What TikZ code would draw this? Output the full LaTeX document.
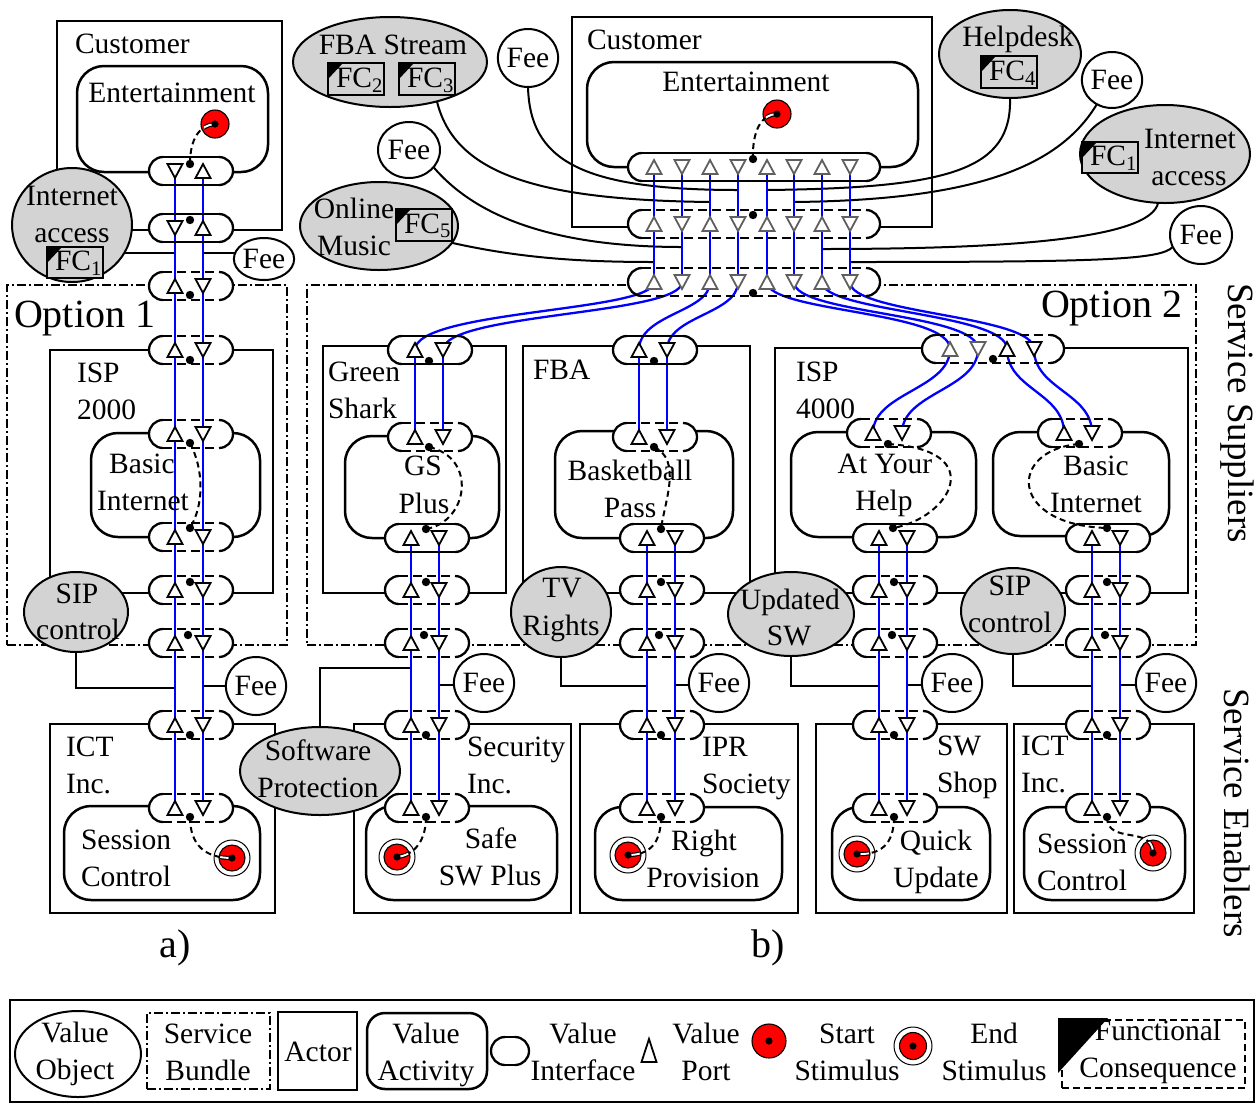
\documentclass[tikz,border=0pt]{standalone}
\usepackage{fontspec}
\setmainfont{Liberation Serif}
\usetikzlibrary{shapes.geometric}
\pgfdeclarelayer{back}
\pgfdeclarelayer{conn}
\pgfdeclarelayer{blue}
\pgfsetlayers{back,conn,blue,main}
\definecolor{vgray}{RGB}{211,211,211}
\definecolor{pgray}{RGB}{95,95,95}
\definecolor{vblue}{RGB}{0,0,255}
\definecolor{sred}{RGB}{255,0,0}
\newcommand\myfs{\fontsize{29.5}{35}\selectfont}
\newcommand\myfsbig{\fontsize{40}{48}\selectfont}
\newcommand\myfsmid{\fontsize{37}{44}\selectfont}
\tikzset{
 actorsty/.style={draw, line width=2.4pt, inner sep=0, outer sep=0},
 actsty/.style={draw, line width=2.5pt, rounded corners=27pt, inner sep=0, outer sep=0},
 bundlesty/.style={draw, line width=1.8pt, dash pattern=on 9pt off 3pt on 2pt off 3pt, inner sep=0, outer sep=0},
 vobjsty/.style={ellipse, draw, fill=vgray, line width=2pt, inner sep=0, outer sep=0},
 feesty/.style={ellipse, draw, fill=white, line width=2pt, inner sep=0, outer sep=0, font=\myfs},
 fcsty/.style={draw, fill=vgray, line width=2.2pt, inner sep=0, outer sep=0},
 pillline/.style={line width=2.3pt},
 pdash/.style={dash pattern=on 9pt off 5pt},
 psol/.style={},
 portsty/.style={fill=white, line width=1.8pt, line join=miter},
 bl/.style={draw=vblue, line width=2.3pt},
 cn/.style={draw=black, line width=2pt},
 dsh/.style={draw=black, line width=2pt, dash pattern=on 6pt off 4pt},
 txt/.style={inner sep=0, outer sep=0, font=\myfs},
}
% boxes
\newcommand\actorbox[5]{\begin{pgfonlayer}{back}\node[actorsty, minimum width={#4pt-#2pt}, minimum height={#5pt-#3pt}] (#1) at ({(#2+#4)/2},{(#3+#5)/2}) {};\end{pgfonlayer}}
\newcommand\activity[5]{\begin{pgfonlayer}{back}\node[actsty, minimum width={#4pt-#2pt}, minimum height={#5pt-#3pt}] (#1) at ({(#2+#4)/2},{(#3+#5)/2}) {};\end{pgfonlayer}}
\newcommand\bundle[5]{\begin{pgfonlayer}{back}\node[bundlesty, minimum width={#4pt-#2pt}, minimum height={#5pt-#3pt}] (#1) at ({(#2+#4)/2},{(#3+#5)/2}) {};\end{pgfonlayer}}
% value interface (pill)
\newcommand\pill[5]{%
 \coordinate (#1) at (#2,#3);
 \begin{pgfonlayer}{back}\fill[white,rounded corners=14pt] (#2-#4-14,#3-14) rectangle (#2+#4+14,#3+14);\end{pgfonlayer}
 \draw[pillline,rounded corners=14pt] (#2-#4,#3-14) -- (#2-#4-14,#3-14) -- (#2-#4-14,#3+14) -- (#2-#4,#3+14);
 \draw[pillline,rounded corners=14pt] (#2+#4,#3-14) -- (#2+#4+14,#3-14) -- (#2+#4+14,#3+14) -- (#2+#4,#3+14);
 \draw[pillline,#5] (#2-#4,#3-14) -- (#2+#4,#3-14) (#2-#4,#3+14) -- (#2+#4,#3+14);}
\newcommand\pu[4][black]{\coordinate (#2) at (#3,#4);\draw[portsty,draw=#1] (#3-7.5,#4+7) -- (#3+7.5,#4+7) -- (#3,#4-7) -- cycle;}
\newcommand\pd[4][black]{\coordinate (#2) at (#3,#4);\draw[portsty,draw=#1] (#3-7.5,#4-7) -- (#3+7.5,#4-7) -- (#3,#4+7) -- cycle;}
\newcommand\dotat[3]{\coordinate (#1) at (#2,#3);\fill (#1) circle[radius=4.2];}
\newcommand\pp[8]{\pill{#1}{#2}{#3}{28}{#8}\pu{#1-1}{#4}{#3}\pd{#1-2}{#5}{#3}\dotat{#1-d}{#6}{#7}}
\newcommand\ppr[8]{\pill{#1}{#2}{#3}{28}{#8}\pd{#1-1}{#4}{#3}\pu{#1-2}{#5}{#3}\dotat{#1-d}{#6}{#7}}
% value objects
\newcommand\vobj[5]{\node[vobjsty, minimum width={2*#4pt}, minimum height={2*#5pt}] (#1) at (#2,#3) {};}
\newcommand\fee[5]{\node[feesty, minimum width={2*#4pt}, minimum height={2*#5pt}] (#1) at (#2,#3) {Fee};}
\newcommand\fcbox[6]{\node[fcsty, minimum width={#4pt-#2pt}, minimum height={#5pt-#3pt}] (#1) at ({(#2+#4)/2},{(#3+#5)/2}) {};
 \fill (#2,#3) -- (#2+15,#3) -- (#2,#3+16) -- cycle;
 \node[txt, anchor=base west] (#1t) at (#2+8,#5-8) {FC\textsubscript{#6}};}
% stimuli
\newcommand\mkstart[3]{\node[circle, draw, fill=sred, line width=1.1pt, minimum size=28pt, inner sep=0] (#1) at (#2,#3) {};}
\newcommand\mkend[3]{\node[circle, draw, fill=white, line width=1pt, minimum size=36pt, inner sep=0] (#1o) at (#2,#3) {};
 \node[circle, draw, fill=sred, line width=1.1pt, minimum size=26pt, inner sep=0] (#1) at (#2,#3) {};}
\newcommand\stimpath[4]{%
 \draw[dsh] (#1) .. controls #2 and #3 .. (#4.center);
 \begin{scope}\clip (#4.center) circle[radius=12];
 \draw[black,line width=4.2pt] (#1) .. controls #2 and #3 .. (#4.center);
 \draw[white,line width=1.9pt] (#1) .. controls #2 and #3 .. (#4.center);\end{scope}
 \fill (#4.center) circle[radius=3.6];}
\newcommand\tx[5][base]{\node[txt, anchor=#1] (#2) at (#3,#4) {#5};}

\begin{document}
\begin{tikzpicture}[x=1pt,y=-1pt]
\useasboundingbox (0,0) rectangle (1258,1104);
\begin{pgfonlayer}{back}\fill[white] (0,0) rectangle (1258,1104);\end{pgfonlayer}

% ---------------- actors, bundles, activities
\actorbox{custA}{57}{21}{282}{230}
\actorbox{ispA}{50}{350}{273}{593}
\actorbox{ictA}{50}{724}{275}{913}
\actorbox{custB}{572}{17}{932}{227}
\actorbox{green}{323}{346}{506}{593}
\actorbox{fba}{523}{346}{750}{593}
\actorbox{ispB}{775}{348}{1188}{593}
\actorbox{sec}{354}{724}{571}{913}
\actorbox{ipr}{580}{724}{798}{913}
\actorbox{sws}{816}{724}{1007}{913}
\actorbox{ictB}{1014}{724}{1194}{913}
\bundle{opt1}{7}{285}{287}{645}
\bundle{opt2}{307}{285}{1196}{645}
\activity{entA}{77}{66}{268}{172}
\activity{biA}{91}{433}{260}{537}
\activity{scA}{64}{806}{260}{900}
\activity{entB}{587}{62}{918}{167}
\activity{gsp}{345}{436}{499}{538}
\activity{bbp}{555}{431}{733}{538}
\activity{ayh}{791}{432}{976}{537}
\activity{biB}{993}{432}{1169}{536}
\activity{safe}{366}{806}{557}{900}
\activity{rp}{595}{807}{782}{900}
\activity{qu}{832}{807}{990}{900}
\activity{scB}{1024}{807}{1185}{900}

% ---------------- value interfaces
\ppr{a1}{191}{171}{175}{203}{190}{164}{psol}
\ppr{a2}{191}{228}{175}{203}{190}{220}{psol}
\pp{a3}{191}{286}{175}{203}{190}{295}{pdash}
\pp{a4}{191}{350}{175}{203}{190}{360}{pdash}
\pp{a5}{191}{434}{175}{203}{190}{443}{pdash}
\pp{a6}{191}{537}{175}{203}{190}{528}{pdash}
\pp{a7}{191}{590}{175}{203}{190}{582}{pdash}
\pp{a8}{191}{643}{175}{203}{188}{635}{pdash}
\pp{a9}{191}{725}{175}{203}{190}{735}{pdash}
\pp{a10}{191}{808}{175}{203}{190}{817}{pdash}

\pp{g1}{430}{350}{415}{443}{429}{361}{psol}
\pp{g2}{430}{437}{415}{443}{429}{447}{pdash}
\pp{g3}{427}{538}{411}{439}{426}{529}{psol}
\pp{g4}{427}{590}{411}{439}{426}{582}{pdash}
\pp{g5}{427}{643}{411}{439}{424}{635}{pdash}
\pp{g6}{427}{725}{411}{439}{426}{735}{pdash}
\pp{g7}{427}{808}{411}{439}{426}{817}{pdash}

\pp{f1}{655}{350}{639}{667}{654}{361}{psol}
\pp{f2}{655}{437}{639}{667}{654}{447}{pdash}
\pp{f3}{662}{538}{647}{675}{661}{529}{psol}
\pp{f4}{662}{590}{647}{675}{661}{582}{pdash}
\pp{f5}{662}{643}{647}{675}{659}{635}{pdash}
\pp{f6}{662}{725}{647}{675}{661}{735}{pdash}
\pp{f7}{662}{808}{647}{675}{661}{817}{pdash}

\pp{h1}{889}{433}{873}{902}{888}{444}{pdash}
\pp{h2}{895}{538}{879}{907}{893}{528}{psol}
\pp{h3}{895}{590}{879}{907}{894}{582}{pdash}
\pp{h4}{895}{643}{879}{907}{892}{635}{pdash}
\pp{h5}{895}{725}{879}{907}{894}{735}{pdash}
\pp{h6}{895}{808}{879}{907}{894}{817}{pdash}

\pp{b1}{1080}{433}{1064}{1092}{1079}{444}{pdash}
\pp{b2}{1108}{538}{1092}{1120}{1107}{528}{psol}
\pp{b3}{1108}{590}{1092}{1120}{1107}{582}{pdash}
\pp{b4}{1108}{643}{1092}{1120}{1105}{635}{pdash}
\pp{b5}{1108}{725}{1092}{1120}{1107}{735}{pdash}
\pp{b6}{1108}{808}{1092}{1120}{1107}{817}{pdash}

\pill{i1}{993}{349}{57}{pdash}
\pu[pgray]{i1-1}{950}{349}\pd[pgray]{i1-2}{978}{349}\pu{i1-3}{1007}{349}\pd{i1-4}{1034}{349}
\dotat{i1-d}{993}{359}

\pill{c1}{754}{167}{112}{psol}
\pill{c2}{754}{224}{112}{pdash}
\pill{c3}{754}{282}{112}{pdash}
\foreach \c/\yy in {c1/167,c2/224,c3/282}{
 \foreach \k/\xx in {1/654,3/710,5/767,7/822}{\pu[pgray]{\c-\k}{\xx}{\yy}}
 \foreach \k/\xx in {2/682,4/738,6/794,8/850}{\pd[pgray]{\c-\k}{\xx}{\yy}}
}
\dotat{c1-d}{753}{159}
\dotat{c2-d}{753}{215}
\dotat{c3-d}{753}{293}

% ---------------- value transfers (blue)
\begin{pgfonlayer}{blue}
\draw[bl] (a1-1) -- (a2-1) -- (a3-1) -- (a4-1) -- (a5-1) -- (a6-1) -- (a7-1) -- (a8-1) -- (a9-1) -- (a10-1);
\draw[bl] (a1-2) -- (a2-2) -- (a3-2) -- (a4-2) -- (a5-2) -- (a6-2) -- (a7-2) -- (a8-2) -- (a9-2) -- (a10-2);
\foreach \p in {g,f}{
 \draw[bl] (\p1-1) -- (\p2-1);
 \draw[bl] (\p1-2) -- (\p2-2);
 \draw[bl] (\p3-1) -- (\p4-1) -- (\p5-1) -- (\p6-1) -- (\p7-1);
 \draw[bl] (\p3-2) -- (\p4-2) -- (\p5-2) -- (\p6-2) -- (\p7-2);}
\foreach \p in {h,b}{
 \draw[bl] (\p2-1) -- (\p3-1) -- (\p4-1) -- (\p5-1) -- (\p6-1);
 \draw[bl] (\p2-2) -- (\p3-2) -- (\p4-2) -- (\p5-2) -- (\p6-2);}
\foreach \k in {1,...,8}{\draw[bl] (c1-\k) -- (c2-\k) -- (c3-\k);}
\draw[bl] (c3-1) .. controls +(0,30) and +(0,-40) .. (g1-1);
\draw[bl] (c3-2) .. controls +(0,33) and +(0,-37) .. (g1-2);
\draw[bl] (c3-3) .. controls +(0,30) and +(0,-36) .. (f1-1);
\draw[bl] (c3-4) .. controls +(0,32) and +(0,-34) .. (f1-2);
\draw[bl] (c3-5) .. controls +(0,30) and +(0,-38) .. (i1-1);
\draw[bl] (c3-6) .. controls +(0,32) and +(0,-36) .. (i1-2);
\draw[bl] (c3-7) .. controls +(0,30) and +(0,-36) .. (i1-3);
\draw[bl] (c3-8) .. controls +(0,32) and +(0,-34) .. (i1-4);
\draw[bl] (i1-1) .. controls +(0,40) and +(0,-40) .. (h1-1);
\draw[bl] (i1-2) .. controls +(0,40) and +(0,-40) .. (h1-2);
\draw[bl] (i1-3) .. controls +(0,40) and +(0,-40) .. (b1-1);
\draw[bl] (i1-4) .. controls +(0,40) and +(0,-40) .. (b1-2);
\end{pgfonlayer}

% ---------------- value objects
\vobj{iaA}{72}{225}{60}{57}
\vobj{fbaS}{390}{62}{97}{45}
\vobj{om}{379}{226}{79}{44}
\vobj{help}{1010}{54}{71}{44}
\vobj{iaB}{1165}{154}{85}{49}
\vobj{sipA}{76}{612}{52}{40}
\vobj{tv}{561}{612}{50}{45}
\vobj{usw}{791}{614}{63}{42}
\vobj{sipB}{1013}{611}{52}{43}
\vobj{swp}{320}{771}{80}{44}
\fee{feeA1}{264}{259}{29}{21}
\fee{feeA2}{256}{686}{30}{29}
\fee{feeT1}{528}{58}{30}{29}
\fee{feeT2}{409}{150}{31}{28}
\fee{feeT3}{1112}{80}{30}{28}
\fee{feeT4}{1201}{235}{31}{29}
\fee{feeG}{484}{683}{30}{29}
\fee{feeF}{719}{683}{30}{29}
\fee{feeH}{952}{683}{30}{29}
\fee{feeB}{1166}{683}{30}{29}
\fcbox{fcA}{47}{247}{103}{278}{1}
\fcbox{fcB}{328}{63}{384}{95}{2}
\fcbox{fcC}{399}{63}{455}{95}{3}
\fcbox{fcD}{396}{209}{452}{241}{5}
\fcbox{fcE}{981}{56}{1037}{88}{4}
\fcbox{fcF}{1082}{142}{1138}{173}{1}

% ---------------- connections of value objects
\coordinate (jA1) at (175,253);
\coordinate (jA2) at (203,253);
\coordinate (jA3) at (175,688);
\coordinate (jA4) at (203,686);
\coordinate (jSP) at (411,668);
\coordinate (jG) at (439,685);
\coordinate (jTV) at (647,686);
\coordinate (jF) at (675,685);
\coordinate (jUS) at (879,686);
\coordinate (jH) at (907,685);
\coordinate (jSB) at (1092,686);
\coordinate (jB) at (1120,685);
\coordinate (jT1) at (738,190);
\coordinate (jT2) at (710,202);
\coordinate (jT3) at (682,247);
\coordinate (jT4) at (654,262);
\coordinate (jT5) at (767,190);
\coordinate (jT6) at (794,202);
\coordinate (jT7) at (822,249);
\coordinate (jT8) at (850,262);
\begin{pgfonlayer}{conn}
\draw[cn] (jA1) -- (iaA.center |- jA1);
\draw[cn] (jA2) -- (feeA1.center |- jA2);
\draw[cn] (jA3) -| (sipA.center);
\draw[cn] (jA4) -- (feeA2.center |- jA4);
\draw[cn] (jSP) -| (swp.center);
\draw[cn] (jG) -- (feeG.center |- jG);
\draw[cn] (jTV) -| (tv.center);
\draw[cn] (jF) -- (feeF.center |- jF);
\draw[cn] (jUS) -| (usw.center);
\draw[cn] (jH) -- (feeH.center |- jH);
\draw[cn] (jSB) -| (sipB.center);
\draw[cn] (jB) -- (feeB.center |- jB);
\draw[cn] (feeT1.south) .. controls (530,160) and (580,190) .. (jT1);
\draw[cn] (fbaS.-40) .. controls (455,175) and (540,200) .. (jT2);
\draw[cn] (feeT2.-35) .. controls (470,210) and (540,247) .. (jT3);
\draw[cn] (om.-13) .. controls (520,258) and (580,262) .. (jT4);
\draw[cn] (help.south) .. controls (1012,170) and (950,188) .. (jT5);
\draw[cn] (feeT3.-122) .. controls (1060,165) and (980,200) .. (jT6);
\draw[cn] (iaB.-98) .. controls (1150,240) and (1000,249) .. (jT7);
\draw[cn] (feeT4.-157) .. controls (1160,260) and (1100,262) .. (jT8);
\end{pgfonlayer}

% ---------------- internal dependency paths and stimuli
\mkstart{stA}{215}{124}
\mkstart{stB}{777}{114}
\mkend{eA}{232}{858}
\mkend{eGS}{397}{857}
\mkend{eRP}{628}{855}
\mkend{eQU}{857}{854}
\mkend{eSC}{1153}{853}
\stimpath{a1-d}{(190,138)}{(200,125)}{stA}
\stimpath{a10-d}{(190,845)}{(205,858)}{eA}
\stimpath{c1-d}{(752,130)}{(762,114)}{stB}
\stimpath{g7-d}{(426,840)}{(415,855)}{eGS}
\stimpath{f7-d}{(661,845)}{(648,855)}{eRP}
\stimpath{h6-d}{(894,845)}{(880,855)}{eQU}
\stimpath{b6-d}{(1107,845)}{(1153,825)}{eSC}
\draw[dsh] (a5-d) .. controls (204,470) and (204,505) .. (a6-d);
\draw[dsh] (g2-d) .. controls (478,458) and (468,522) .. (g3-d);
\draw[dsh] (f2-d) .. controls (682,460) and (665,500) .. (f3-d);
\draw[dsh] (h1-d) .. controls (990,450) and (950,518) .. (h2-d);
\draw[dsh] (b1-d) .. controls (1008,450) and (1008,525) .. (b2-d);

% ---------------- texts
\tx[base west]{tCustA}{75}{53}{Customer}
\tx{tEntA}{172}{102}{Entertainment}
\tx{tIaA1}{72}{205}{Internet}
\tx{tIaA2}{72}{242}{access}
\node[txt, font=\myfsbig, anchor=base west] (tOpt1) at (14,327) {Option 1};
\tx[base west]{tIspA1}{77}{382}{ISP}
\tx[base west]{tIspA2}{77}{419}{2000}
\tx{tBiA1}{142}{473}{Basic}
\tx{tBiA2}{143}{510}{Internet}
\tx{tSipA1}{77}{603}{SIP}
\tx{tSipA2}{78}{639}{control}
\tx[base west]{tIctA1}{66}{756}{ICT}
\tx[base west]{tIctA2}{66}{793}{Inc.}
\tx[base west]{tScA1}{81}{849}{Session}
\tx[base west]{tScA2}{81}{886}{Control}
\tx{tSwp1}{318}{760}{Software}
\tx{tSwp2}{318}{797}{Protection}
\node[txt, font=\myfsbig, anchor=base] (ta) at (175,957) {a)};

\tx[base west]{tCustB}{587}{49}{Customer}
\tx{tEntB}{746}{91}{Entertainment}
\tx{tFbaS}{393}{54}{FBA Stream}
\tx{tOm1}{354}{218}{Online}
\tx{tOm2}{354}{255}{Music}
\tx{tHelp}{1018}{46}{Helpdesk}
\tx{tIaB1}{1190}{148}{Internet}
\tx{tIaB2}{1189}{185}{access}
\node[txt, font=\myfsbig, anchor=base west] (tOpt2) at (1041,317) {Option 2};
\tx[base west]{tGreen1}{328}{381}{Green}
\tx[base west]{tGreen2}{328}{418}{Shark}
\tx[base west]{tFba}{533}{379}{FBA}
\tx[base west]{tIspB1}{796}{381}{ISP}
\tx[base west]{tIspB2}{796}{418}{4000}
\tx{tGs1}{423}{475}{GS}
\tx{tGs2}{424}{513}{Plus}
\tx{tBb1}{630}{480}{Basketball}
\tx{tBb2}{630}{517}{Pass}
\tx{tAyh1}{885}{473}{At Your}
\tx{tAyh2}{884}{510}{Help}
\tx{tBiB1}{1096}{475}{Basic}
\tx{tBiB2}{1096}{512}{Internet}
\tx{tTv1}{562}{597}{TV}
\tx{tTv2}{561}{635}{Rights}
\tx{tUsw1}{790}{609}{Updated}
\tx{tUsw2}{789}{645}{SW}
\tx{tSipB1}{1010}{595}{SIP}
\tx{tSipB2}{1010}{632}{control}
\tx[base west]{tSec1}{467}{756}{Security}
\tx[base west]{tSec2}{467}{793}{Inc.}
\tx{tSafe1}{491}{848}{Safe}
\tx{tSafe2}{490}{885}{SW Plus}
\tx[base west]{tIpr1}{702}{756}{IPR}
\tx[base west]{tIpr2}{702}{793}{Society}
\tx{tRp1}{704}{850}{Right}
\tx{tRp2}{703}{887}{Provision}
\tx[base west]{tSws1}{937}{755}{SW}
\tx[base west]{tSws2}{937}{792}{Shop}
\tx{tQu1}{936}{850}{Quick}
\tx{tQu2}{936}{887}{Update}
\tx[base west]{tIctB1}{1021}{755}{ICT}
\tx[base west]{tIctB2}{1021}{792}{Inc.}
\tx[base west]{tScB1}{1037}{853}{Session}
\tx[base west]{tScB2}{1037}{890}{Control}
\node[txt, font=\myfsbig, anchor=base] (tb) at (768,957) {b)};
\node[txt, font=\myfsmid, rotate=-90] (tSS) at (1237,413) {Service Suppliers};
\node[txt, font=\myfsmid, rotate=-90] (tSE) at (1237,813) {Service Enablers};

% ---------------- legend
\node[draw, line width=2.2pt, inner sep=0, minimum width=1244pt, minimum height=102pt] (leg) at (632,1051) {};
\node[ellipse, draw, line width=2pt, inner sep=0, minimum width=126pt, minimum height=86pt] (lvo) at (78,1054) {};
\tx{lvo1}{75}{1042}{Value}
\tx{lvo2}{75}{1079}{Object}
\node[bundlesty, minimum width=123pt, minimum height=76pt] (lsb) at (208.5,1051) {};
\tx{lsb1}{208}{1043}{Service}
\tx{lsb2}{208}{1080}{Bundle}
\node[actorsty, minimum width=79pt, minimum height=78pt] (lac) at (317.5,1051) {};
\tx{lac1}{318}{1061}{Actor}
\node[actsty, rounded corners=18pt, minimum width=120pt, minimum height=76pt] (lva) at (427,1051) {};
\tx{lva1}{426}{1043}{Value}
\tx{lva2}{426}{1080}{Activity}
\pill{lvi}{510}{1051}{5}{psol}
\tx{lvi1}{583}{1043}{Value}
\tx{lvi2}{583}{1080}{Interface}
\coordinate (lvp) at (649,1051);
\draw[portsty] (641.5,1062) -- (656.5,1062) -- (649,1039) -- cycle;
\tx{lvp1}{706}{1043}{Value}
\tx{lvp2}{706}{1080}{Port}
\node[circle, draw, fill=sred, line width=1.1pt, minimum size=34pt, inner sep=0] (lst) at (769,1041) {};
\fill (lst.center) circle[radius=3.6];
\tx{lst1}{847}{1043}{Start}
\tx{lst2}{847}{1080}{Stimulus}
\node[circle, draw, fill=white, line width=1pt, minimum size=38pt, inner sep=0] (lesO) at (913,1046) {};
\node[circle, draw, fill=sred, line width=1.1pt, minimum size=27pt, inner sep=0] (les) at (913,1046) {};
\fill (les.center) circle[radius=3.6];
\tx{les1}{994}{1043}{End}
\tx{les2}{994}{1080}{Stimulus}
\node[draw, line width=2pt, dash pattern=on 7pt off 4pt, inner sep=0, minimum width=183pt, minimum height=68pt] (lfc) at (1153.5,1054) {};
\fill (1058,1018) -- (1108,1018) -- (1058,1073) -- cycle;
\tx{lfc1}{1158}{1040}{Functional}
\tx{lfc2}{1158}{1077}{Consequence}
\end{tikzpicture}
\end{document}
